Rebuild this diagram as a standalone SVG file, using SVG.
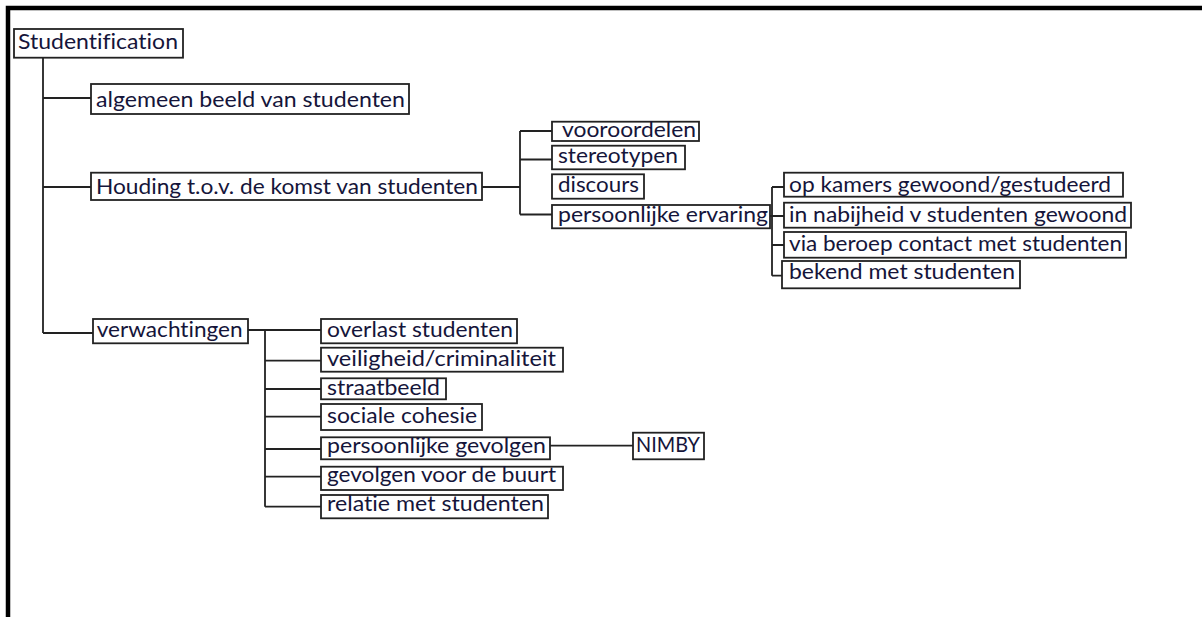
<svg xmlns="http://www.w3.org/2000/svg" width="1202" height="617" viewBox="0 0 1202 617">
<style>
.bg{fill:#ffffff}
.frame{fill:none;stroke:#000;stroke-width:4.5}
.node rect{fill:#fff;stroke:#222;stroke-width:1.8}
.node text{font-family:Lato,"Open Sans","Liberation Sans",sans-serif;font-size:22px;fill:#15153a;font-variant-ligatures:none;font-feature-settings:"liga" 0}
#connectors path{fill:none;stroke:#222;stroke-width:1.8}
</style>
<rect class="bg" x="0" y="0" width="1202" height="617"/>
<path class="frame" d="M8,617 V8 H1202"/>
<g id="connectors">
<path d="M43,57.7 V333 M43,98 H91 M43,187 H91 M43,333 H93"/>
<path d="M482,187 H520 M520,131 V214.5 M520,131 H552 M520,159.5 H552 M520,214.5 H552"/>
<path d="M770,216 H772 M772,187 V275.7 M772,187 H784 M772,216 H784 M772,245 H784 M772,275.7 H782"/>
<path d="M248,330 H321 M265,330 V506.7 M265,360.7 H321 M265,389 H321 M265,416.7 H321 M265,449 H321 M265,476.7 H321 M265,506.7 H321"/>
<path d="M550,445.7 H633"/>
</g>
<g id="n-root" class="node"><rect x="14" y="29" width="169" height="28.7"/><text x="18" y="48.5" textLength="160" lengthAdjust="spacingAndGlyphs">Studentification</text></g>
<g id="n-algemeen" class="node"><rect x="91" y="84" width="318" height="30"/><text x="96" y="106.7" textLength="309" lengthAdjust="spacingAndGlyphs">algemeen beeld van studenten</text></g>
<g id="n-houding" class="node"><rect x="91" y="172.7" width="391" height="27.3"/><text x="96" y="194" textLength="382" lengthAdjust="spacingAndGlyphs">Houding t.o.v. de komst van studenten</text></g>
<g id="n-vooroordelen" class="node"><rect x="552" y="121.7" width="147" height="19.3"/><text x="562" y="137" textLength="134" lengthAdjust="spacingAndGlyphs">vooroordelen</text></g>
<g id="n-stereotypen" class="node"><rect x="552" y="145.7" width="133" height="23.6"/><text x="558" y="163.3" textLength="120" lengthAdjust="spacingAndGlyphs">stereotypen</text></g>
<g id="n-discours" class="node"><rect x="552" y="174.3" width="92" height="24.4"/><text x="558" y="192.3" textLength="81" lengthAdjust="spacingAndGlyphs">discours</text></g>
<g id="n-ervaring" class="node"><rect x="552" y="205" width="218" height="23.3"/><text x="558" y="221.7" textLength="210" lengthAdjust="spacingAndGlyphs">persoonlijke ervaring</text></g>
<g id="n-kamers" class="node"><rect x="784" y="172.7" width="339" height="24"/><text x="789" y="192.3" textLength="322" lengthAdjust="spacingAndGlyphs">op kamers gewoond/gestudeerd</text></g>
<g id="n-nabijheid" class="node"><rect x="784" y="202.7" width="347" height="25"/><text x="789" y="221.7" textLength="338" lengthAdjust="spacingAndGlyphs">in nabijheid v studenten gewoond</text></g>
<g id="n-beroep" class="node"><rect x="784" y="232" width="342" height="25.7"/><text x="789" y="250.7" textLength="333" lengthAdjust="spacingAndGlyphs">via beroep contact met studenten</text></g>
<g id="n-bekend" class="node"><rect x="782" y="261" width="238" height="27.3"/><text x="789" y="279" textLength="226" lengthAdjust="spacingAndGlyphs">bekend met studenten</text></g>
<g id="n-verwachtingen" class="node"><rect x="93" y="319" width="155" height="24.3"/><text x="96.7" y="336.7" textLength="146" lengthAdjust="spacingAndGlyphs">verwachtingen</text></g>
<g id="n-overlast" class="node"><rect x="321" y="319" width="196" height="24.3"/><text x="327" y="336.7" textLength="186" lengthAdjust="spacingAndGlyphs">overlast studenten</text></g>
<g id="n-veiligheid" class="node"><rect x="321" y="347.7" width="242" height="24"/><text x="327" y="365.7" textLength="229" lengthAdjust="spacingAndGlyphs">veiligheid/criminaliteit</text></g>
<g id="n-straatbeeld" class="node"><rect x="321" y="378.3" width="125" height="21"/><text x="327" y="395" textLength="113" lengthAdjust="spacingAndGlyphs">straatbeeld</text></g>
<g id="n-cohesie" class="node"><rect x="321" y="404" width="161" height="26"/><text x="327" y="423.3" textLength="150" lengthAdjust="spacingAndGlyphs">sociale cohesie</text></g>
<g id="n-gevolgen" class="node"><rect x="321" y="437.3" width="229" height="22"/><text x="327" y="452.7" textLength="219" lengthAdjust="spacingAndGlyphs">persoonlijke gevolgen</text></g>
<g id="n-nimby" class="node"><rect x="633" y="432.7" width="71" height="26.6"/><text x="636" y="451.7" textLength="64" lengthAdjust="spacingAndGlyphs">NIMBY</text></g>
<g id="n-buurt" class="node"><rect x="321" y="466.7" width="242" height="23.3"/><text x="327" y="481.7" textLength="229" lengthAdjust="spacingAndGlyphs">gevolgen voor de buurt</text></g>
<g id="n-relatie" class="node"><rect x="321" y="495" width="227" height="23.3"/><text x="327" y="510.7" textLength="217" lengthAdjust="spacingAndGlyphs">relatie met studenten</text></g>
</svg>
